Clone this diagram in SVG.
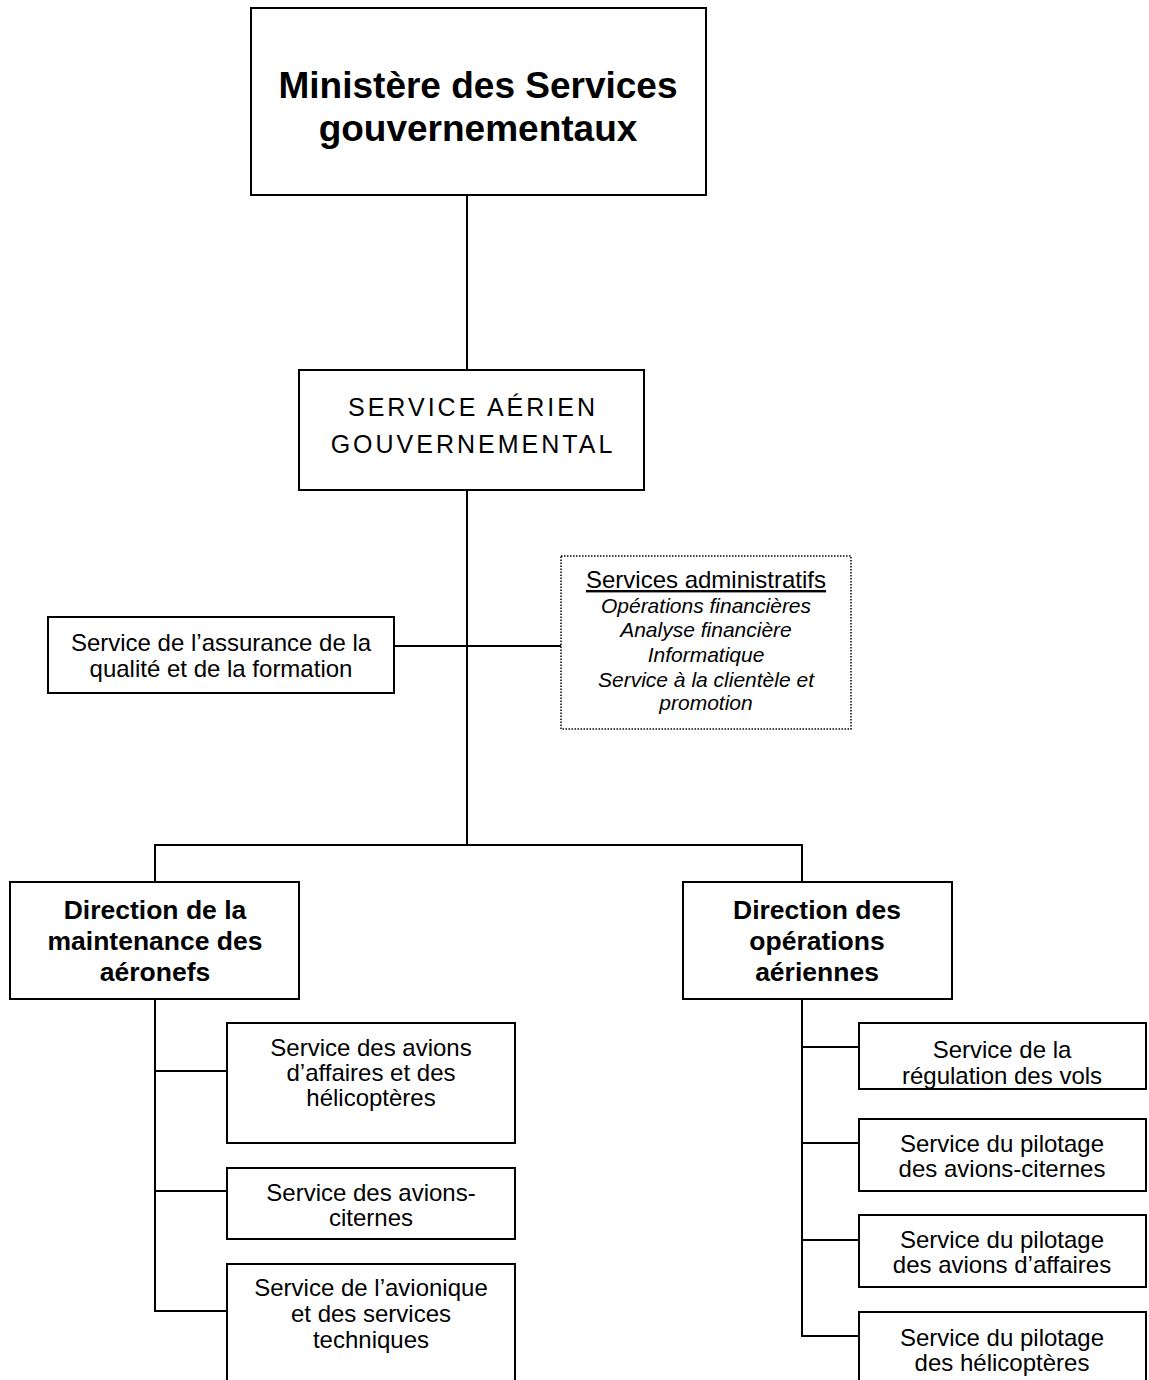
<svg xmlns="http://www.w3.org/2000/svg" width="1149" height="1380" viewBox="0 0 1149 1380">
<style>
.box{fill:#fff;stroke:#000;stroke-width:2}
.dot{fill:#fff;stroke:#000;stroke-width:1.5;stroke-dasharray:1.5 1.5}
.ln{fill:none;stroke:#000;stroke-width:2}
text{font-family:"Liberation Sans",Arial,sans-serif;fill:#000;text-anchor:middle}
.t37{font-size:37px;font-weight:bold}
.t26{font-size:26.5px;font-weight:bold}
.t24{font-size:24px}
.sag{font-size:25px;letter-spacing:3px}
.it{font-size:21px;font-style:italic}
</style>
<defs>
<clipPath id="regclip"><rect x="859" y="1023" width="287" height="66"/></clipPath>
</defs>
<rect width="1149" height="1380" fill="#fff"/>
<g id="connectors">
<path class="ln" d="M467 195V370"/>
<path class="ln" d="M467 490V845"/>
<path class="ln" d="M394 646H561"/>
<path class="ln" d="M155 882V845H802V882"/>
<path class="ln" d="M155 999V1311H227M155 1071H227M155 1191H227"/>
<path class="ln" d="M802 999V1336H859M802 1047H859M802 1143H859M802 1240H859"/>
</g>
<g id="ministere">
<rect class="box" x="251" y="8" width="455" height="187"/>
<text class="t37" x="478" y="98">Ministère des Services</text>
<text class="t37" x="478" y="141">gouvernementaux</text>
</g>
<g id="sag">
<rect class="box" x="299" y="370" width="345" height="120"/>
<text class="sag" x="473" y="416">SERVICE AÉRIEN</text>
<text class="sag" x="473" y="453">GOUVERNEMENTAL</text>
</g>
<g id="assurance">
<rect class="box" x="48" y="617" width="346" height="76"/>
<text class="t24" x="221" y="651">Service de l’assurance de la</text>
<text class="t24" x="221" y="677">qualité et de la formation</text>
</g>
<g id="admin">
<rect class="dot" x="561" y="556" width="290" height="173"/>
<text class="t24" x="706" y="588" text-decoration="underline">Services administratifs</text>
<text class="it" x="706" y="613">Opérations financières</text>
<text class="it" x="706" y="637">Analyse financière</text>
<text class="it" x="706" y="662">Informatique</text>
<text class="it" x="706" y="687">Service à la clientèle et</text>
<text class="it" x="706" y="710">promotion</text>
</g>
<g id="dir-maintenance">
<rect class="box" x="10" y="882" width="289" height="117"/>
<text class="t26" x="155" y="919">Direction de la</text>
<text class="t26" x="155" y="950">maintenance des</text>
<text class="t26" x="155" y="981">aéronefs</text>
</g>
<g id="dir-operations">
<rect class="box" x="683" y="882" width="269" height="117"/>
<text class="t26" x="817" y="919">Direction des</text>
<text class="t26" x="817" y="950">opérations</text>
<text class="t26" x="817" y="981">aériennes</text>
</g>
<g id="avions-affaires">
<rect class="box" x="227" y="1023" width="288" height="120"/>
<text class="t24" x="371" y="1056">Service des avions</text>
<text class="t24" x="371" y="1081">d’affaires et des</text>
<text class="t24" x="371" y="1106">hélicoptères</text>
</g>
<g id="avions-citernes">
<rect class="box" x="227" y="1168" width="288" height="71"/>
<text class="t24" x="371" y="1201">Service des avions-</text>
<text class="t24" x="371" y="1226">citernes</text>
</g>
<g id="avionique">
<rect class="box" x="227" y="1264" width="288" height="130"/>
<text class="t24" x="371" y="1296">Service de l’avionique</text>
<text class="t24" x="371" y="1322">et des services</text>
<text class="t24" x="371" y="1348">techniques</text>
</g>
<g id="regulation">
<rect class="box" x="859" y="1023" width="287" height="66"/>
<g clip-path="url(#regclip)">
<text class="t24" x="1002" y="1058">Service de la</text>
<text class="t24" x="1002" y="1084">régulation des vols</text>
</g>
</g>
<g id="pilotage-citernes">
<rect class="box" x="859" y="1119" width="287" height="72"/>
<text class="t24" x="1002" y="1152">Service du pilotage</text>
<text class="t24" x="1002" y="1177">des avions-citernes</text>
</g>
<g id="pilotage-affaires">
<rect class="box" x="859" y="1215" width="287" height="72"/>
<text class="t24" x="1002" y="1248">Service du pilotage</text>
<text class="t24" x="1002" y="1273">des avions d’affaires</text>
</g>
<g id="pilotage-helicopteres">
<rect class="box" x="859" y="1312" width="287" height="90"/>
<text class="t24" x="1002" y="1346">Service du pilotage</text>
<text class="t24" x="1002" y="1371">des hélicoptères</text>
</g>
</svg>
